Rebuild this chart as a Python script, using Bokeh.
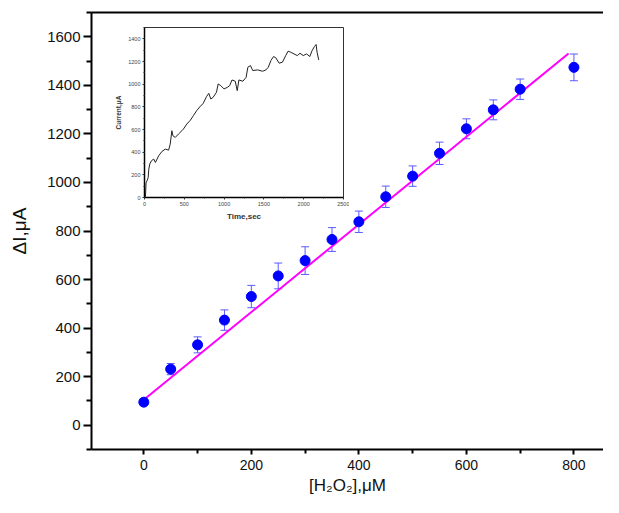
from bokeh.plotting import figure
from bokeh.models import (Range1d, FixedTicker, Whisker, TeeHead, ColumnDataSource,
                          GridBox, LinearAxis, Column)
from bokeh.embed import file_html
from bokeh.resources import INLINE

# ---- main data ----
conc_uM = [0, 50, 100, 150, 200, 250, 300, 350, 400, 450, 500, 550, 600, 650, 700, 800]
delta_i = [95, 231, 331, 433, 530, 615, 678, 765, 838, 941, 1026, 1120, 1221, 1299, 1384, 1474]
delta_err = [10, 23, 33, 42, 46, 53, 57, 49, 44, 44, 42, 46, 41, 41, 42, 55]
fit_x = [0, 790]
fit_y = [105, 1531]

x_ticks = [0, 200, 400, 600, 800]
x_minor = [-100, 100, 300, 500, 700, 900]
y_ticks = [0, 200, 400, 600, 800, 1000, 1200, 1400, 1600]
y_minor = [-100, 100, 300, 500, 700, 900, 1100, 1300, 1500, 1700]

# ---- inset data (amperometric response) ----
time_s = [0, 5, 12, 20, 33, 46, 54, 66, 87, 116, 137, 178, 220, 261, 303, 323, 344, 357,
          386, 427, 469, 489, 531, 572, 614, 655, 697, 738, 779, 808, 833, 862, 904, 925,
          958, 999, 1041, 1070, 1099, 1140, 1165, 1186, 1236, 1277, 1298, 1331, 1360,
          1422, 1484, 1526, 1555, 1588, 1621, 1650, 1692, 1733, 1774, 1804, 1837, 1878,
          1920, 1953, 1994, 2036, 2077, 2106, 2135, 2156, 2168, 2189]
current_uA = [0, 20, 10, 130, 150, 175, 250, 295, 324, 339, 309, 368, 407, 427, 418, 471,
              589, 545, 530, 560, 589, 604, 648, 678, 722, 766, 801, 831, 890, 919, 869,
              884, 928, 1002, 987, 958, 972, 987, 1037, 1026, 943, 1037, 1026, 1061, 1149,
              1164, 1120, 1126, 1114, 1126, 1149, 1208, 1244, 1232, 1185, 1194, 1252, 1291,
              1282, 1267, 1252, 1273, 1252, 1267, 1244, 1297, 1332, 1350, 1282, 1214]
inset_x_ticks = [0, 500, 1000, 1500, 2000, 2500]
inset_x_minor = [250, 750, 1250, 1750, 2250]
inset_y_ticks = [0, 200, 400, 600, 800, 1000, 1200, 1400]
inset_y_minor = [100, 300, 500, 700, 900, 1100, 1300, 1500]

FONT = "Liberation Sans"

# ---- main figure ----
p = figure(width=603, height=497, output_backend="svg", toolbar_location=None,
           x_range=Range1d(-97.3, 855), y_range=Range1d(-100, 1700),
           min_border_left=91, min_border_right=0, min_border_top=12, min_border_bottom=48)
p.background_fill_color = "white"
p.border_fill_color = "white"
p.outline_line_color = None
p.xgrid.visible = False
p.ygrid.visible = False

src = ColumnDataSource(dict(
    x=conc_uM, y=delta_i,
    upper=[v + e for v, e in zip(delta_i, delta_err)],
    lower=[v - e for v, e in zip(delta_i, delta_err)],
))

p.line(fit_x, fit_y, line_color="#ff00ff", line_width=2)
err_col = "#5a5aff"
w = Whisker(source=src, base="x", upper="upper", lower="lower",
            line_color=err_col, line_width=1,
            upper_head=TeeHead(size=8, line_color=err_col, line_width=1),
            lower_head=TeeHead(size=8, line_color=err_col, line_width=1))
p.add_layout(w)
p.scatter("x", "y", source=src, size=10, fill_color="#0000ff", line_color="#0000ff")

for ax in (p.xaxis[0], p.yaxis[0]):
    ax.axis_line_width = 2
    ax.axis_line_color = "black"
    ax.major_tick_line_color = "black"
    ax.major_tick_line_width = 2
    ax.minor_tick_line_color = "black"
    ax.minor_tick_line_width = 2
    ax.major_tick_in = 0
    ax.minor_tick_in = 0
    ax.major_label_text_font = FONT
    ax.major_label_text_color = "#111111"
    ax.axis_label_text_font = FONT
    ax.axis_label_text_font_style = "normal"
    ax.axis_label_text_color = "#111111"

p.xaxis[0].ticker = FixedTicker(ticks=x_ticks, minor_ticks=x_minor)
p.xaxis[0].major_tick_out = 5
p.xaxis[0].minor_tick_out = 4
p.xaxis[0].major_label_standoff = 5
p.xaxis[0].major_label_text_font_size = "14px"
p.xaxis[0].axis_label = "[H\u2082O\u2082],\u03bcM"
p.xaxis[0].axis_label_text_font_size = "17px"
p.xaxis[0].axis_label_standoff = 3

p.yaxis[0].ticker = FixedTicker(ticks=y_ticks, minor_ticks=y_minor)
p.yaxis[0].major_tick_out = 8
p.yaxis[0].minor_tick_out = 5
p.yaxis[0].major_label_standoff = 3
p.yaxis[0].major_label_text_font_size = "15px"
p.yaxis[0].axis_label = "\u0394I,\u03bcA"
p.yaxis[0].axis_label_text_font_size = "19px"
p.yaxis[0].axis_label_standoff = 14

top_ax = LinearAxis(ticker=FixedTicker(ticks=[]), axis_line_width=2, axis_line_color="black",
                    major_tick_line_color=None, minor_tick_line_color=None,
                    major_label_text_color=None, major_label_text_font_size="1px")
p.add_layout(top_ax, "above")

# ---- inset figure ----
ins = figure(width=237, height=201, output_backend="svg", toolbar_location=None,
             x_range=Range1d(0, 2500), y_range=Range1d(0, 1500),
             min_border_left=30, min_border_right=6, min_border_top=3, min_border_bottom=28)
ins.background_fill_color = "white"
ins.border_fill_color = None
ins.outline_line_color = "#333333"
ins.outline_line_width = 1
ins.xgrid.visible = False
ins.ygrid.visible = False
ins.line(time_s, current_uA, line_color="#222222", line_width=1)

for ax in (ins.xaxis[0], ins.yaxis[0]):
    ax.axis_line_color = "black"
    ax.axis_line_width = 1.5
    ax.major_tick_in = 0
    ax.major_tick_out = 2
    ax.minor_tick_in = 0
    ax.minor_tick_out = 1
    ax.major_tick_line_color = "#333333"
    ax.minor_tick_line_color = "#333333"
    ax.major_label_text_font = FONT
    ax.major_label_text_font_size = "5.5px"
    ax.major_label_text_color = "#444444"
    ax.major_label_standoff = 2
    ax.axis_label_text_font = FONT
    ax.axis_label_text_font_style = "bold"
    ax.axis_label_text_color = "#333333"
    ax.axis_label_standoff = 3

ins.xaxis[0].ticker = FixedTicker(ticks=inset_x_ticks, minor_ticks=inset_x_minor)
ins.yaxis[0].ticker = FixedTicker(ticks=inset_y_ticks, minor_ticks=inset_y_minor)
ins.xaxis[0].axis_label = "Time,sec"
ins.xaxis[0].axis_label_text_font_size = "8px"
ins.yaxis[0].axis_label = "Current,\u03bcA"
ins.yaxis[0].axis_label_text_font_size = "6.5px"

inset_box = Column(ins, margin=(24, 0, 0, 112))
grid = GridBox(children=[(p, 0, 0), (inset_box, 0, 0)])

open("out.html", "w").write(file_html(grid, INLINE))
